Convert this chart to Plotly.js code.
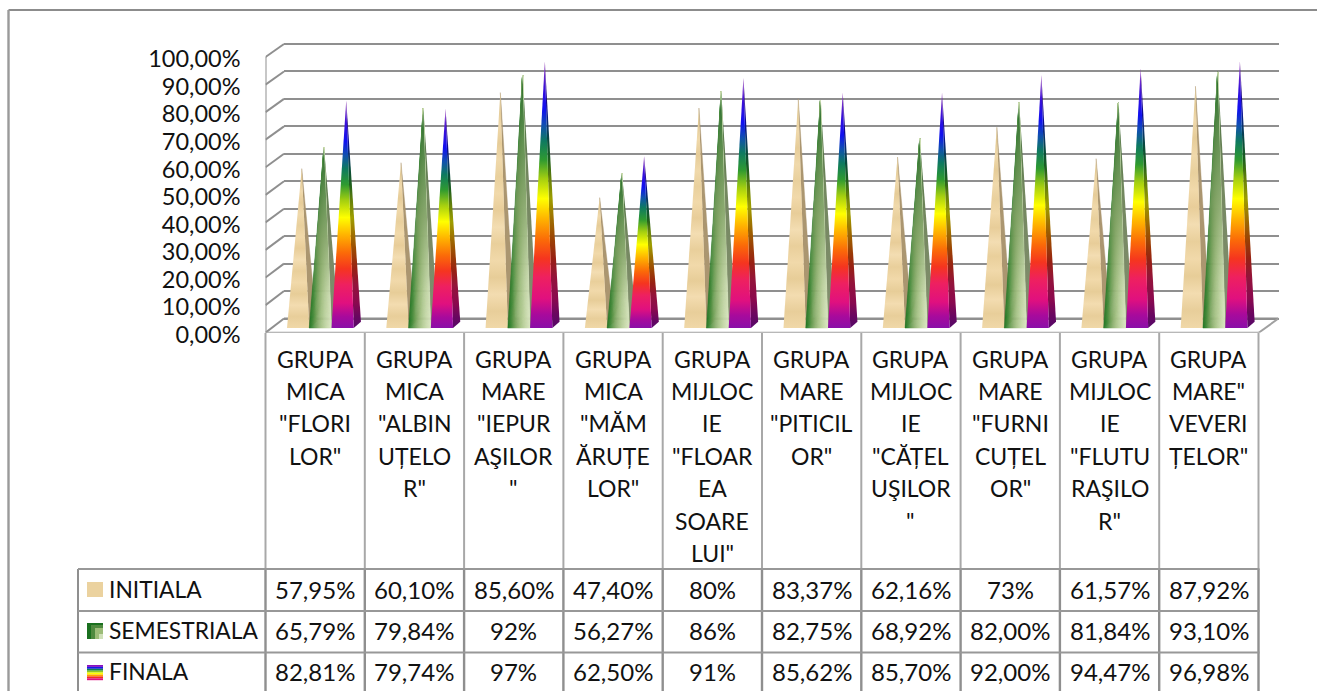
<!DOCTYPE html>
<html><head><meta charset="utf-8">
<script src="https://cdn.plot.ly/plotly-3.0.1.min.js"></script>
<style>html,body{margin:0;padding:0;background:#fff;overflow:hidden}#c{width:1317px;height:691px}</style>
</head><body><div id="c"></div>
<script>
const categories = [
 ['GRUPA','MICA','"FLORI','LOR"'],
 ['GRUPA','MICA','"ALBIN','UȚELO','R"'],
 ['GRUPA','MARE','"IEPUR','AŞILOR','"'],
 ['GRUPA','MICA','"MĂM','ĂRUȚE','LOR"'],
 ['GRUPA','MIJLOC','IE','"FLOAR','EA','SOARE','LUI"'],
 ['GRUPA','MARE','"PITICIL','OR"'],
 ['GRUPA','MIJLOC','IE','"CĂȚEL','UŞILOR','"'],
 ['GRUPA','MARE','"FURNI','CUȚEL','OR"'],
 ['GRUPA','MIJLOC','IE','"FLUTU','RAŞILO','R"'],
 ['GRUPA','MARE"','VEVERI','ȚELOR"']
];
const seriesNames = ['INITIALA','SEMESTRIALA','FINALA'];
const initiala    = [57.95,60.10,85.60,47.40,80,83.37,62.16,73,61.57,87.92];
const semestriala = [65.79,79.84,92,56.27,86,82.75,68.92,82.00,81.84,93.10];
const finala      = [82.81,79.74,97,62.50,91,85.62,85.70,92.00,94.47,96.98];
const initialaLabels    = ['57,95%','60,10%','85,60%','47,40%','80%','83,37%','62,16%','73%','61,57%','87,92%'];
const semestrialaLabels = ['65,79%','79,84%','92%','56,27%','86%','82,75%','68,92%','82,00%','81,84%','93,10%'];
const finalaLabels      = ['82,81%','79,74%','97%','62,50%','91%','85,62%','85,70%','92,00%','94,47%','96,98%'];

const FONT = 'Lato, Carlito, Calibri, sans-serif';
const W = 1317, H = 691;
const px = x => x / W, py = y => 1 - y / H;
const TOP = 36, BOT = 332.7;
const L = 265.5, BL = 284, R = 1278.5, PITCH = 99.3;

const rainbow = [[0,'#8a0fa8'],[0.05,'#a80a9c'],[0.11,'#e0107f'],[0.19,'#ee2060'],[0.26,'#f5351f'],[0.33,'#fb6a08'],[0.41,'#ffb400'],[0.485,'#ffff00'],[0.56,'#a4cf10'],[0.63,'#2f9a30'],[0.70,'#0e7a60'],[0.76,'#1050b0'],[0.82,'#1010f0'],[0.90,'#3a10d8'],[1,'#a040c0']];
const dark = (c,f) => { const n = parseInt(c.slice(1),16); return `rgb(${((n>>16)&255)*f|0},${((n>>8)&255)*f|0},${(n&255)*f|0})`; };
const rainbowSide = rainbow.map(([p,c]) => [p, dark(c,0.62)]);
const wood = []; ['#f0d8a8','#e8ce9a','#f3dcb0','#e7cd98','#f1d9aa','#e9cf9b','#f3ddb2','#e8cd99','#f1d9aa','#e9d09d','#f0d9ab','#e6cc98','#f0d9ab','#e2c994','#dcc48f'].forEach((c,i,a)=>wood.push([i/(a.length-1),c]));
const greenKeys = ['#1f7423','#3f8a38','#6d9f55','#8fb272','#a9c488','#bcd29e','#cddcb0','#d8e5c0'];
const hex = c => { const n = parseInt(c.slice(1),16); return [(n>>16)&255,(n>>8)&255,n&255]; };
const STRIPS = 22;
const greenAt = t => { const f = t*(greenKeys.length-1), i = Math.min(Math.floor(f),greenKeys.length-2), a = hex(greenKeys[i]), b = hex(greenKeys[i+1]), u = f-i; return `rgb(${a.map((v,k)=>Math.round(v+(b[k]-v)*u)).join(',')})`; };

const traces = [];
const grid = '#8f8f8f';
const backOnFront = v => (BOT - (318.5 - 2.745*v)) / 2.757;
const depthX = (BL - L) / PITCH;
const ticks = [0,10,20,30,40,50,60,70,80,90,100];
const lineTrace = (xs,ys,c) => traces.push({type:'scatter',mode:'lines',xaxis:'x2',yaxis:'y3',x:xs,y:ys,line:{color:c,width:2},hoverinfo:'skip',showlegend:false,cliponaxis:false});
ticks.forEach(v => lineTrace([0,depthX],[v,backOnFront(v)],grid));
const frontEnd = (1258.7 - L) / PITCH;
lineTrace([0,0],[0,100],grid);
lineTrace([0,frontEnd],[0,0],'#a0a0a0');
lineTrace([frontEnd,(R-L)/PITCH],[0,backOnFront(0)],'#a0a0a0');
traces.push({type:'scatter',mode:'lines',xaxis:'x',yaxis:'y',x:[0,1],y:[0,0],line:{color:grid,width:2},hoverinfo:'skip',showlegend:false});

const OFF0 = (287 - L) / PITCH, FW = 22.25 / PITCH, SIDE = 7.2 / PITCH, SIDEY = 2.3;
function poly(xs, ys, extra){ traces.push(Object.assign({type:'scatter',mode:'lines',xaxis:'x2',yaxis:'y2',x:xs,y:ys,fill:'toself',hoverinfo:'skip',showlegend:false,cliponaxis:false,line:{width:0}},extra)); }
function grad(cs){ return {fillgradient:{type:'vertical',colorscale:cs},fillcolor:'rgba(0,0,0,0)'}; }
const allSeries = [initiala, semestriala, finala];
categories.forEach((_, g) => {
  allSeries.forEach((vals, s) => {
    const v = vals[g], x0 = g + OFF0 + s*FW, x1 = x0 + FW, xr = x1 + SIDE, ax = (x0 + xr) / 2;
    if (s === 0) {
      poly([x1,xr,ax,x1],[0,SIDEY,v,0],{fillcolor:'#ab9670',line:{color:'#ab9670',width:0.4}});
      poly([x0,x1,ax,x0],[0,0,v,0],grad(wood));
    } else if (s === 1) {
      poly([x1,xr,ax,x1],[0,SIDEY,v,0],grad([[0,'#848f70'],[0.6,'#73875f'],[1,'#3d6b35']]));
      for (let i=0;i<STRIPS;i++){
        const a = x0 + FW*i/STRIPS, b = x0 + FW*(i+1)/STRIPS, c = greenAt((i+0.5)/STRIPS);
        poly([a,b,ax,a],[0,0,v,0],{fillcolor:c,line:{color:c,width:0.5}});
      }
      poly([x0,x1,ax,x0],[0,0,v,0],grad([[0,'rgba(125,160,95,0)'],[0.18,'rgba(125,160,95,0.15)'],[0.5,'rgba(122,156,95,0.8)'],[0.75,'rgba(85,135,70,0.9)'],[1,'rgba(35,105,40,0.98)']]));
    } else {
      poly([x1,xr,ax,x1],[0,SIDEY,v,0],grad(rainbowSide));
      poly([x0,x1,ax,x0],[0,0,v,0],grad(rainbow));
    }
  });
});

const shapes = [], ann = [];
const line = (x0,y0,x1,y1,color,width) => shapes.push({type:'line',xref:'paper',yref:'paper',x0:px(x0),x1:px(x1),y0:py(y0),y1:py(y1),line:{color,width},layer:'below'});
const rect = (x0,y0,x1,y1,c) => shapes.push({type:'rect',xref:'paper',yref:'paper',x0:px(x0),x1:px(x1),y0:py(y0),y1:py(y1),fillcolor:c,line:{width:0},layer:'above'});
const text = (x,y,t,anchor,size) => ann.push({xref:'paper',yref:'paper',x:px(x),y:py(y),text:t,showarrow:false,xanchor:anchor||'center',yanchor:'middle',font:{family:FONT,size:size,color:'#111'},borderpad:0,borderwidth:0});
line(8.5,10,W+2,10,'#8c8c8c',2);
line(8.5,10,8.5,H+2,'#9a9a9a',2.4);
const rowY = [569,611,652.5], rowText = [589,630,671];
for (let i=0;i<=10;i++){ const x = L + i*PITCH; line(x,333,x,569,'#a8a8a8',2); line(x,569,x,H+2,'#8f8f8f',2.4); }
line(78,569,78,H+2,'#8f8f8f',2);
rowY.forEach(y => line(78,y,1259.5,y,'#989898',2.2));
const lineY = [359,390.5,423,455.5,488,521,553];
categories.forEach((c,g) => c.forEach((t,i) => text(L + (g+0.5)*PITCH, lineY[i], t, 'center', 23)));
[initialaLabels,semestrialaLabels,finalaLabels].forEach((labels,r) => {
  labels.forEach((t,g) => text(L + (g+0.5)*PITCH, rowText[r], t, 'center', 24));
  text(109, rowText[r]-0.5, seriesNames[r], 'left', 22.8);
});
rect(87,582,103,597,'#ebd29f');
rect(87,623,103,639,'#1a701f'); rect(91,625,103,639,'#4f8a3f'); rect(95,628,103,639,'#9cbc78'); rect(99,634,103,639,'#cfe0b8');
['#8a10c0','#1818e8','#108050','#90c820','#ffff00','#ffa000','#f53020','#e01080'].forEach((c,i)=>rect(87,665+i*1.9,103,665+(i+1)*1.9,c));

const layout = {
  width:W,height:H,margin:{l:0,r:0,t:0,b:0},paper_bgcolor:'#fff',plot_bgcolor:'rgba(0,0,0,0)',showlegend:false,
  separators:',.',
  font:{family:FONT,size:23,color:'#111'},
  xaxis:{domain:[px(BL),px(R)],range:[0,1],visible:false,fixedrange:true},
  yaxis:{domain:[py(BOT),py(TOP)],range:[(318.5-BOT)/2.745,(318.5-TOP)/2.745],tickvals:ticks,showticklabels:false,showgrid:true,gridcolor:grid,gridwidth:2,zeroline:false,showline:false,ticks:'',fixedrange:true,anchor:'x'},
  xaxis2:{domain:[px(L),px(R)],range:[0,(R-L)/PITCH],visible:false,fixedrange:true,anchor:'y2'},
  yaxis2:{domain:[py(BOT),py(TOP)],range:[(328-BOT)/2.75,(328-TOP)/2.75],visible:false,fixedrange:true,anchor:'x2'},
  yaxis3:{domain:[py(BOT),py(TOP)],range:[0,(BOT-TOP)/2.757],overlaying:'y2',anchor:'x2',side:'left',tickmode:'linear',tick0:0,dtick:10,tickformat:'.2f',ticksuffix:'%',showticksuffix:'all',showgrid:false,zeroline:false,showline:false,ticks:'',ticklabelstandoff:24,ticklabelshift:2,tickfont:{family:FONT,size:23.5,color:'#111'},fixedrange:true},
  shapes:shapes,annotations:ann
};
Plotly.newPlot('c',traces,layout,{displayModeBar:false,staticPlot:true});
</script></body></html>
